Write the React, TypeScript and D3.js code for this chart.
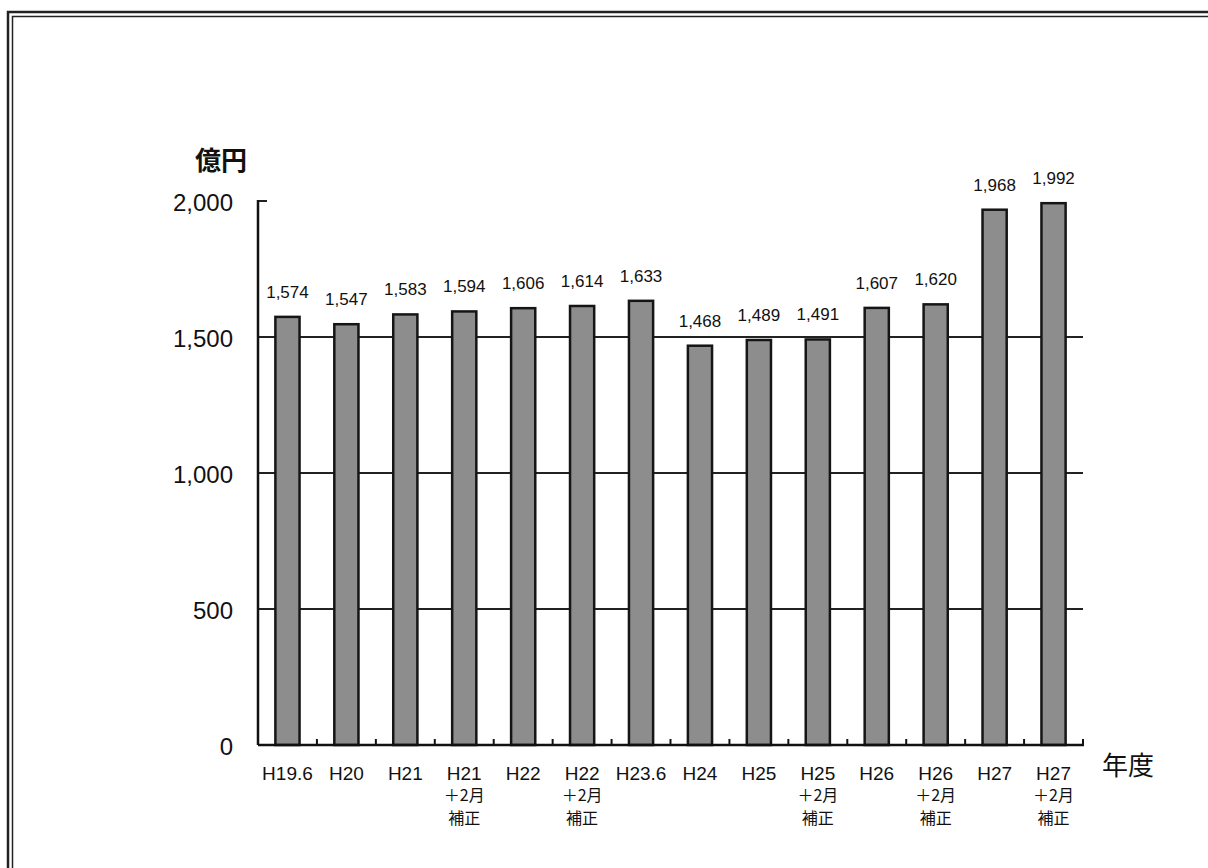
import { useRef, useEffect } from 'react';
import * as d3 from 'd3';

const categories = ['H19.6', 'H20', 'H21', 'H21\n＋2月\n補正', 'H22', 'H22\n＋2月\n補正', 'H23.6', 'H24', 'H25', 'H25\n＋2月\n補正', 'H26', 'H26\n＋2月\n補正', 'H27', 'H27\n＋2月\n補正'];
const values = [1574, 1547, 1583, 1594, 1606, 1614, 1633, 1468, 1489, 1491, 1607, 1620, 1968, 1992];
const yTicks = [0, 500, 1000, 1500, 2000];

const latin = '"Liberation Sans", Arial, sans-serif';
const jp = '"Noto Sans CJK JP", "Liberation Sans", sans-serif';

const App = () => {
    const ref = useRef<SVGSVGElement>(null);

    useEffect(() => {
        const width = 1208;
        const height = 868;
        const margin = { left: 258, right: 125, top: 201, bottom: 123 };

        const svg = d3.select(ref.current);
        svg.selectAll('*').remove();
        svg.attr('viewBox', [0, 0, width, height]).attr('width', width).attr('height', height);

        svg.append('rect').attr('width', width).attr('height', height).attr('fill', '#fff');

        // outer frame (double line, left and top only)
        const frame = svg.append('g').attr('stroke', '#222').attr('fill', 'none');
        frame.append('path').attr('d', `M8,${height} V12 H${width}`).attr('stroke-width', 2.5);
        frame.append('path').attr('d', `M12.5,${height} V16.5 H${width}`).attr('stroke-width', 1.5);

        const x = d3.scaleBand<string>()
            .domain(categories)
            .range([margin.left, width - margin.right])
            .paddingInner(0.59)
            .paddingOuter(0.295);

        const y = d3.scaleLinear()
            .domain([0, 2000])
            .range([height - margin.bottom, margin.top]);

        const x0 = margin.left;
        const x1 = width - margin.right;

        // grid lines
        svg.append('g')
            .selectAll('line')
            .data(yTicks.filter(d => d > 0 && d < 2000))
            .enter().append('line')
            .attr('x1', x0).attr('x2', x1)
            .attr('y1', d => y(d)).attr('y2', d => y(d))
            .attr('stroke', '#222').attr('stroke-width', 2);

        // top tick at 2000
        svg.append('line')
            .attr('x1', x0).attr('x2', x0 + 9)
            .attr('y1', y(2000)).attr('y2', y(2000))
            .attr('stroke', '#222').attr('stroke-width', 2);

        // y axis labels
        svg.append('g')
            .attr('transform', `translate(${x0 - 25}, 0)`)
            .call(d3.axisLeft(y).tickValues(yTicks).tickSize(0).tickPadding(0).tickFormat(d3.format(',')))
            .call(g => g.select('.domain').remove())
            .selectAll('text')
            .attr('font-family', latin)
            .attr('font-size', 24)
            .attr('fill', '#111')
            .attr('dy', '0.38em');

        // bars
        svg.append('g')
            .selectAll('rect')
            .data(values)
            .enter().append('rect')
            .attr('x', (d, i) => x(categories[i]) as number)
            .attr('y', d => y(d))
            .attr('width', x.bandwidth())
            .attr('height', d => y(0) - y(d))
            .attr('fill', '#8d8d8d')
            .attr('stroke', '#151515')
            .attr('stroke-width', 2.5);

        // value labels
        svg.append('g')
            .selectAll('text')
            .data(values)
            .enter().append('text')
            .attr('x', (d, i) => (x(categories[i]) as number) + x.bandwidth() / 2)
            .attr('y', d => y(d) - 19)
            .attr('text-anchor', 'middle')
            .attr('font-family', latin)
            .attr('font-size', 17)
            .attr('fill', '#111')
            .text(d => d3.format(',')(d));

        // y axis line and baseline
        svg.append('line')
            .attr('x1', x0).attr('x2', x0)
            .attr('y1', y(2000) - 1).attr('y2', y(0))
            .attr('stroke', '#111').attr('stroke-width', 2.5);
        svg.append('line')
            .attr('x1', x0).attr('x2', x1 + 1)
            .attr('y1', y(0)).attr('y2', y(0))
            .attr('stroke', '#111').attr('stroke-width', 2.5);

        // small upward ticks between categories
        const step = x.step();
        const bounds = categories.map((c, i) => x0 + (i + 1) * step);
        svg.append('g')
            .selectAll('line')
            .data(bounds)
            .enter().append('line')
            .attr('x1', d => d).attr('x2', d => d)
            .attr('y1', y(0)).attr('y2', y(0) - 6)
            .attr('stroke', '#111').attr('stroke-width', 2);

        // x labels (one text per category, lines as tspans)
        const lineY = [780, 801, 824];
        svg.append('g')
            .selectAll('text')
            .data(categories)
            .enter().append('text')
            .attr('text-anchor', 'middle')
            .attr('fill', '#111')
            .each(function (c) {
                const cx = (x(c) as number) + x.bandwidth() / 2;
                const t = d3.select(this);
                c.split('\n').forEach((line, j) => {
                    t.append('tspan')
                        .attr('x', cx)
                        .attr('y', lineY[j])
                        .attr('font-family', j === 0 ? latin : jp)
                        .attr('font-size', j === 0 ? 19 : 16)
                        .text(line);
                });
            });

        // unit labels
        svg.append('text')
            .attr('x', 195).attr('y', 170)
            .attr('font-family', jp)
            .attr('font-size', 26)
            .attr('font-weight', 'bold')
            .attr('fill', '#111')
            .text('億円');

        svg.append('text')
            .attr('x', 1102).attr('y', 775)
            .attr('font-family', jp)
            .attr('font-size', 26)
            .attr('fill', '#111')
            .text('年度');
    }, []);

    return (
        <div style={{ position: 'absolute', left: 0, top: 0 }}>
            <svg ref={ref}></svg>
        </div>
    );
};

export default App;
